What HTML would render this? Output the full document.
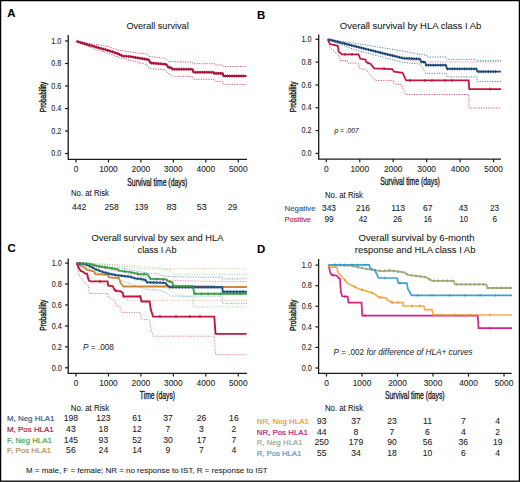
<!DOCTYPE html>
<html><head><meta charset="utf-8"><style>
html,body{margin:0;padding:0;background:#fff;width:520px;height:482px;overflow:hidden;position:relative}
</style></head><body>
<svg width="520" height="482" viewBox="0 0 520 482" style="position:absolute;left:0;top:0">
<g font-family='"Liberation Sans", sans-serif' fill="#222" stroke-width="0.08">
<rect x="0.6" y="0.6" width="518.8" height="480.6" fill="none" stroke="#000" stroke-width="1.3"/>
<text x="7.30" y="17.20" font-size="11.4" stroke="#000" fill="#000" font-weight="bold" >A</text>
<text x="256.90" y="18.80" font-size="11.4" stroke="#000" fill="#000" font-weight="bold" >B</text>
<text x="7.50" y="252.40" font-size="11.4" stroke="#000" fill="#000" font-weight="bold" >C</text>
<text x="257.10" y="252.70" font-size="11.4" stroke="#000" fill="#000" font-weight="bold" >D</text>
<text x="126.40" y="28.70" font-size="9.4" stroke="#222" textLength="62.30" lengthAdjust="spacingAndGlyphs" >Overall survival</text>
<text x="339.80" y="28.80" font-size="9.4" stroke="#222" textLength="141.60" lengthAdjust="spacingAndGlyphs" >Overall survival by HLA class I Ab</text>
<text x="91.50" y="241.30" font-size="9.4" stroke="#222" textLength="132.00" lengthAdjust="spacingAndGlyphs" >Overall survival by sex and HLA</text>
<text x="137.60" y="252.50" font-size="9.4" stroke="#222" textLength="38.90" lengthAdjust="spacingAndGlyphs" >class I Ab</text>
<text x="358.50" y="240.90" font-size="9.4" stroke="#222" textLength="116.00" lengthAdjust="spacingAndGlyphs" >Overall survival by 6-month</text>
<text x="354.80" y="252.60" font-size="9.4" stroke="#222" textLength="120.60" lengthAdjust="spacingAndGlyphs" >response and HLA class I Ab</text>
<path d="M68.20 35.00 V159.30 H247.00" fill="none" stroke="#1a1a1a" stroke-width="1.3"/>
<line x1="65.00" y1="153.50" x2="68.20" y2="153.50" stroke="#1a1a1a" stroke-width="1.2"/>
<text x="51.30" y="156.20" font-size="8.4" stroke="#222" textLength="10.10" lengthAdjust="spacingAndGlyphs" >0.0</text>
<line x1="65.00" y1="131.00" x2="68.20" y2="131.00" stroke="#1a1a1a" stroke-width="1.2"/>
<text x="51.30" y="133.70" font-size="8.4" stroke="#222" textLength="10.10" lengthAdjust="spacingAndGlyphs" >0.2</text>
<line x1="65.00" y1="108.50" x2="68.20" y2="108.50" stroke="#1a1a1a" stroke-width="1.2"/>
<text x="51.30" y="111.20" font-size="8.4" stroke="#222" textLength="10.10" lengthAdjust="spacingAndGlyphs" >0.4</text>
<line x1="65.00" y1="86.00" x2="68.20" y2="86.00" stroke="#1a1a1a" stroke-width="1.2"/>
<text x="51.30" y="88.70" font-size="8.4" stroke="#222" textLength="10.10" lengthAdjust="spacingAndGlyphs" >0.6</text>
<line x1="65.00" y1="63.50" x2="68.20" y2="63.50" stroke="#1a1a1a" stroke-width="1.2"/>
<text x="51.30" y="66.20" font-size="8.4" stroke="#222" textLength="10.10" lengthAdjust="spacingAndGlyphs" >0.8</text>
<line x1="65.00" y1="41.00" x2="68.20" y2="41.00" stroke="#1a1a1a" stroke-width="1.2"/>
<text x="51.30" y="43.70" font-size="8.4" stroke="#222" textLength="10.10" lengthAdjust="spacingAndGlyphs" >1.0</text>
<line x1="76.00" y1="159.30" x2="76.00" y2="162.50" stroke="#1a1a1a" stroke-width="1.2"/>
<text x="76.00" y="172.00" font-size="8.4" stroke="#222" text-anchor="middle" >0</text>
<line x1="108.45" y1="159.30" x2="108.45" y2="162.50" stroke="#1a1a1a" stroke-width="1.2"/>
<text x="108.45" y="172.00" font-size="8.4" stroke="#222" text-anchor="middle" >1000</text>
<line x1="140.90" y1="159.30" x2="140.90" y2="162.50" stroke="#1a1a1a" stroke-width="1.2"/>
<text x="140.90" y="172.00" font-size="8.4" stroke="#222" text-anchor="middle" >2000</text>
<line x1="173.35" y1="159.30" x2="173.35" y2="162.50" stroke="#1a1a1a" stroke-width="1.2"/>
<text x="173.35" y="172.00" font-size="8.4" stroke="#222" text-anchor="middle" >3000</text>
<line x1="205.80" y1="159.30" x2="205.80" y2="162.50" stroke="#1a1a1a" stroke-width="1.2"/>
<text x="205.80" y="172.00" font-size="8.4" stroke="#222" text-anchor="middle" >4000</text>
<line x1="238.25" y1="159.30" x2="238.25" y2="162.50" stroke="#1a1a1a" stroke-width="1.2"/>
<text x="238.25" y="172.00" font-size="8.4" stroke="#222" text-anchor="middle" >5000</text>
<path d="M318.70 34.40 V159.10 H501.00" fill="none" stroke="#1a1a1a" stroke-width="1.3"/>
<line x1="315.50" y1="153.40" x2="318.70" y2="153.40" stroke="#1a1a1a" stroke-width="1.2"/>
<text x="301.50" y="156.10" font-size="8.4" stroke="#222" textLength="10.10" lengthAdjust="spacingAndGlyphs" >0.0</text>
<line x1="315.50" y1="130.58" x2="318.70" y2="130.58" stroke="#1a1a1a" stroke-width="1.2"/>
<text x="301.50" y="133.28" font-size="8.4" stroke="#222" textLength="10.10" lengthAdjust="spacingAndGlyphs" >0.2</text>
<line x1="315.50" y1="107.76" x2="318.70" y2="107.76" stroke="#1a1a1a" stroke-width="1.2"/>
<text x="301.50" y="110.46" font-size="8.4" stroke="#222" textLength="10.10" lengthAdjust="spacingAndGlyphs" >0.4</text>
<line x1="315.50" y1="84.94" x2="318.70" y2="84.94" stroke="#1a1a1a" stroke-width="1.2"/>
<text x="301.50" y="87.64" font-size="8.4" stroke="#222" textLength="10.10" lengthAdjust="spacingAndGlyphs" >0.6</text>
<line x1="315.50" y1="62.12" x2="318.70" y2="62.12" stroke="#1a1a1a" stroke-width="1.2"/>
<text x="301.50" y="64.82" font-size="8.4" stroke="#222" textLength="10.10" lengthAdjust="spacingAndGlyphs" >0.8</text>
<line x1="315.50" y1="39.30" x2="318.70" y2="39.30" stroke="#1a1a1a" stroke-width="1.2"/>
<text x="301.50" y="42.00" font-size="8.4" stroke="#222" textLength="10.10" lengthAdjust="spacingAndGlyphs" >1.0</text>
<line x1="326.30" y1="159.10" x2="326.30" y2="162.30" stroke="#1a1a1a" stroke-width="1.2"/>
<text x="326.30" y="171.50" font-size="8.4" stroke="#222" text-anchor="middle" >0</text>
<line x1="359.75" y1="159.10" x2="359.75" y2="162.30" stroke="#1a1a1a" stroke-width="1.2"/>
<text x="359.75" y="171.50" font-size="8.4" stroke="#222" text-anchor="middle" >1000</text>
<line x1="393.20" y1="159.10" x2="393.20" y2="162.30" stroke="#1a1a1a" stroke-width="1.2"/>
<text x="393.20" y="171.50" font-size="8.4" stroke="#222" text-anchor="middle" >2000</text>
<line x1="426.65" y1="159.10" x2="426.65" y2="162.30" stroke="#1a1a1a" stroke-width="1.2"/>
<text x="426.65" y="171.50" font-size="8.4" stroke="#222" text-anchor="middle" >3000</text>
<line x1="460.10" y1="159.10" x2="460.10" y2="162.30" stroke="#1a1a1a" stroke-width="1.2"/>
<text x="460.10" y="171.50" font-size="8.4" stroke="#222" text-anchor="middle" >4000</text>
<line x1="493.55" y1="159.10" x2="493.55" y2="162.30" stroke="#1a1a1a" stroke-width="1.2"/>
<text x="493.55" y="171.50" font-size="8.4" stroke="#222" text-anchor="middle" >5000</text>
<path d="M68.20 258.50 V373.30 H247.00" fill="none" stroke="#1a1a1a" stroke-width="1.3"/>
<line x1="65.00" y1="367.80" x2="68.20" y2="367.80" stroke="#1a1a1a" stroke-width="1.2"/>
<text x="51.70" y="370.50" font-size="8.4" stroke="#222" textLength="10.10" lengthAdjust="spacingAndGlyphs" >0.0</text>
<line x1="65.00" y1="346.86" x2="68.20" y2="346.86" stroke="#1a1a1a" stroke-width="1.2"/>
<text x="51.70" y="349.56" font-size="8.4" stroke="#222" textLength="10.10" lengthAdjust="spacingAndGlyphs" >0.2</text>
<line x1="65.00" y1="325.92" x2="68.20" y2="325.92" stroke="#1a1a1a" stroke-width="1.2"/>
<text x="51.70" y="328.62" font-size="8.4" stroke="#222" textLength="10.10" lengthAdjust="spacingAndGlyphs" >0.4</text>
<line x1="65.00" y1="304.98" x2="68.20" y2="304.98" stroke="#1a1a1a" stroke-width="1.2"/>
<text x="51.70" y="307.68" font-size="8.4" stroke="#222" textLength="10.10" lengthAdjust="spacingAndGlyphs" >0.6</text>
<line x1="65.00" y1="284.04" x2="68.20" y2="284.04" stroke="#1a1a1a" stroke-width="1.2"/>
<text x="51.70" y="286.74" font-size="8.4" stroke="#222" textLength="10.10" lengthAdjust="spacingAndGlyphs" >0.8</text>
<line x1="65.00" y1="263.10" x2="68.20" y2="263.10" stroke="#1a1a1a" stroke-width="1.2"/>
<text x="51.70" y="265.80" font-size="8.4" stroke="#222" textLength="10.10" lengthAdjust="spacingAndGlyphs" >1.0</text>
<line x1="76.00" y1="373.30" x2="76.00" y2="376.50" stroke="#1a1a1a" stroke-width="1.2"/>
<text x="76.00" y="385.80" font-size="8.4" stroke="#222" text-anchor="middle" >0</text>
<line x1="108.45" y1="373.30" x2="108.45" y2="376.50" stroke="#1a1a1a" stroke-width="1.2"/>
<text x="108.45" y="385.80" font-size="8.4" stroke="#222" text-anchor="middle" >1000</text>
<line x1="140.90" y1="373.30" x2="140.90" y2="376.50" stroke="#1a1a1a" stroke-width="1.2"/>
<text x="140.90" y="385.80" font-size="8.4" stroke="#222" text-anchor="middle" >2000</text>
<line x1="173.35" y1="373.30" x2="173.35" y2="376.50" stroke="#1a1a1a" stroke-width="1.2"/>
<text x="173.35" y="385.80" font-size="8.4" stroke="#222" text-anchor="middle" >3000</text>
<line x1="205.80" y1="373.30" x2="205.80" y2="376.50" stroke="#1a1a1a" stroke-width="1.2"/>
<text x="205.80" y="385.80" font-size="8.4" stroke="#222" text-anchor="middle" >4000</text>
<line x1="238.25" y1="373.30" x2="238.25" y2="376.50" stroke="#1a1a1a" stroke-width="1.2"/>
<text x="238.25" y="385.80" font-size="8.4" stroke="#222" text-anchor="middle" >5000</text>
<path d="M318.60 259.00 V373.40 H511.70" fill="none" stroke="#1a1a1a" stroke-width="1.3"/>
<line x1="315.40" y1="368.00" x2="318.60" y2="368.00" stroke="#1a1a1a" stroke-width="1.2"/>
<text x="301.70" y="370.70" font-size="8.4" stroke="#222" textLength="10.10" lengthAdjust="spacingAndGlyphs" >0.0</text>
<line x1="315.40" y1="347.42" x2="318.60" y2="347.42" stroke="#1a1a1a" stroke-width="1.2"/>
<text x="301.70" y="350.12" font-size="8.4" stroke="#222" textLength="10.10" lengthAdjust="spacingAndGlyphs" >0.2</text>
<line x1="315.40" y1="326.84" x2="318.60" y2="326.84" stroke="#1a1a1a" stroke-width="1.2"/>
<text x="301.70" y="329.54" font-size="8.4" stroke="#222" textLength="10.10" lengthAdjust="spacingAndGlyphs" >0.4</text>
<line x1="315.40" y1="306.26" x2="318.60" y2="306.26" stroke="#1a1a1a" stroke-width="1.2"/>
<text x="301.70" y="308.96" font-size="8.4" stroke="#222" textLength="10.10" lengthAdjust="spacingAndGlyphs" >0.6</text>
<line x1="315.40" y1="285.68" x2="318.60" y2="285.68" stroke="#1a1a1a" stroke-width="1.2"/>
<text x="301.70" y="288.38" font-size="8.4" stroke="#222" textLength="10.10" lengthAdjust="spacingAndGlyphs" >0.8</text>
<line x1="315.40" y1="265.10" x2="318.60" y2="265.10" stroke="#1a1a1a" stroke-width="1.2"/>
<text x="301.70" y="267.80" font-size="8.4" stroke="#222" textLength="10.10" lengthAdjust="spacingAndGlyphs" >1.0</text>
<line x1="326.50" y1="373.40" x2="326.50" y2="376.60" stroke="#1a1a1a" stroke-width="1.2"/>
<text x="326.50" y="385.80" font-size="8.4" stroke="#222" text-anchor="middle" >0</text>
<line x1="362.00" y1="373.40" x2="362.00" y2="376.60" stroke="#1a1a1a" stroke-width="1.2"/>
<text x="362.00" y="385.80" font-size="8.4" stroke="#222" text-anchor="middle" >1000</text>
<line x1="397.50" y1="373.40" x2="397.50" y2="376.60" stroke="#1a1a1a" stroke-width="1.2"/>
<text x="397.50" y="385.80" font-size="8.4" stroke="#222" text-anchor="middle" >2000</text>
<line x1="433.00" y1="373.40" x2="433.00" y2="376.60" stroke="#1a1a1a" stroke-width="1.2"/>
<text x="433.00" y="385.80" font-size="8.4" stroke="#222" text-anchor="middle" >3000</text>
<line x1="468.50" y1="373.40" x2="468.50" y2="376.60" stroke="#1a1a1a" stroke-width="1.2"/>
<text x="468.50" y="385.80" font-size="8.4" stroke="#222" text-anchor="middle" >4000</text>
<line x1="504.00" y1="373.40" x2="504.00" y2="376.60" stroke="#1a1a1a" stroke-width="1.2"/>
<text x="504.00" y="385.80" font-size="8.4" stroke="#222" text-anchor="middle" >5000</text>
<text x="127.30" y="185.60" font-size="10" stroke="#222" textLength="60.10" lengthAdjust="spacingAndGlyphs" stroke-width="0.35">Survival time (days)</text>
<text x="380.20" y="185.20" font-size="10" stroke="#222" textLength="59.60" lengthAdjust="spacingAndGlyphs" stroke-width="0.35">Survival time (days)</text>
<text x="139.80" y="399.40" font-size="10" stroke="#222" textLength="35.20" lengthAdjust="spacingAndGlyphs" stroke-width="0.35">Time (days)</text>
<text x="385.00" y="399.40" font-size="10" stroke="#222" textLength="59.60" lengthAdjust="spacingAndGlyphs" stroke-width="0.35">Survival time (days)</text>
<text transform="translate(45.60 112.20) rotate(-90)" x="0" y="0" font-size="9.1" stroke="#222" stroke-width="0.4" textLength="30.40" lengthAdjust="spacingAndGlyphs">Probability</text>
<text transform="translate(295.60 112.20) rotate(-90)" x="0" y="0" font-size="9.1" stroke="#222" stroke-width="0.4" textLength="30.70" lengthAdjust="spacingAndGlyphs">Probability</text>
<text transform="translate(45.60 330.80) rotate(-90)" x="0" y="0" font-size="9.1" stroke="#222" stroke-width="0.4" textLength="31.20" lengthAdjust="spacingAndGlyphs">Probability</text>
<text transform="translate(295.60 331.10) rotate(-90)" x="0" y="0" font-size="9.1" stroke="#222" stroke-width="0.4" textLength="31.50" lengthAdjust="spacingAndGlyphs">Probability</text>
<text x="334.40" y="132.70" font-size="6.6" stroke="#222" font-style="italic" textLength="24.20" lengthAdjust="spacingAndGlyphs" >p = .007</text>
<text x="82.9" y="350.2" font-size="8.3" textLength="31.1" lengthAdjust="spacingAndGlyphs"><tspan font-style="italic">P</tspan> = .008</text>
<text x="333.4" y="354.6" font-size="8.2" textLength="139.3" lengthAdjust="spacingAndGlyphs"><tspan font-style="italic">P</tspan> = .002 <tspan font-style="italic">for difference of HLA+ curves</tspan></text>
<text x="71.00" y="196.30" font-size="8.3" stroke="#222" textLength="38.00" lengthAdjust="spacingAndGlyphs" >No. at Risk</text>
<text x="71.90" y="210.40" font-size="8.6" stroke="#222" textLength="14.40" lengthAdjust="spacingAndGlyphs" >442</text>
<text x="104.60" y="210.40" font-size="8.6" stroke="#222" textLength="14.10" lengthAdjust="spacingAndGlyphs" >258</text>
<text x="134.80" y="210.40" font-size="8.6" stroke="#222" textLength="13.50" lengthAdjust="spacingAndGlyphs" >139</text>
<text x="166.40" y="210.40" font-size="8.6" stroke="#222" textLength="10.20" lengthAdjust="spacingAndGlyphs" >83</text>
<text x="196.80" y="210.40" font-size="8.6" stroke="#222" textLength="10.00" lengthAdjust="spacingAndGlyphs" >53</text>
<text x="227.80" y="210.40" font-size="8.6" stroke="#222" textLength="9.50" lengthAdjust="spacingAndGlyphs" >29</text>
<text x="325.00" y="197.50" font-size="8.3" stroke="#222" textLength="38.00" lengthAdjust="spacingAndGlyphs" >No. at Risk</text>
<text x="284.50" y="211.00" font-size="8.0" stroke="#35648f" fill="#35648f" textLength="31.00" lengthAdjust="spacingAndGlyphs" stroke-width="0.18">Negative</text>
<text x="284.50" y="221.60" font-size="8.0" stroke="#c02848" fill="#c02848" textLength="26.50" lengthAdjust="spacingAndGlyphs" stroke-width="0.18">Positive</text>
<text x="322.00" y="210.60" font-size="8.6" stroke="#222" textLength="14.00" lengthAdjust="spacingAndGlyphs" >343</text>
<text x="356.00" y="210.60" font-size="8.6" stroke="#222" textLength="14.00" lengthAdjust="spacingAndGlyphs" >216</text>
<text x="391.25" y="210.60" font-size="8.6" stroke="#222" textLength="13.75" lengthAdjust="spacingAndGlyphs" >113</text>
<text x="423.00" y="210.60" font-size="8.6" stroke="#222" textLength="9.50" lengthAdjust="spacingAndGlyphs" >67</text>
<text x="458.75" y="210.60" font-size="8.6" stroke="#222" textLength="9.25" lengthAdjust="spacingAndGlyphs" >43</text>
<text x="490.00" y="210.60" font-size="8.6" stroke="#222" textLength="9.00" lengthAdjust="spacingAndGlyphs" >23</text>
<text x="324.50" y="221.80" font-size="8.6" stroke="#222" textLength="9.25" lengthAdjust="spacingAndGlyphs" >99</text>
<text x="358.75" y="221.80" font-size="8.6" stroke="#222" textLength="8.75" lengthAdjust="spacingAndGlyphs" >42</text>
<text x="393.00" y="221.80" font-size="8.6" stroke="#222" textLength="9.00" lengthAdjust="spacingAndGlyphs" >26</text>
<text x="423.75" y="221.80" font-size="8.6" stroke="#222" textLength="8.25" lengthAdjust="spacingAndGlyphs" >16</text>
<text x="459.50" y="221.80" font-size="8.6" stroke="#222" textLength="8.50" lengthAdjust="spacingAndGlyphs" >10</text>
<text x="492.50" y="221.80" font-size="8.6" stroke="#222" textLength="4.50" lengthAdjust="spacingAndGlyphs" >6</text>
<text x="70.75" y="410.50" font-size="8.3" stroke="#222" textLength="38.50" lengthAdjust="spacingAndGlyphs" >No. at Risk</text>
<text x="7.00" y="421.30" font-size="8.0" stroke="#35648f" fill="#35648f" textLength="47.50" lengthAdjust="spacingAndGlyphs" stroke-width="0.22">M, Neg HLA1</text>
<text x="70.90" y="421.30" font-size="8.6" stroke="#222" text-anchor="middle" >198</text>
<text x="103.40" y="421.30" font-size="8.6" stroke="#222" text-anchor="middle" >123</text>
<text x="137.00" y="421.30" font-size="8.6" stroke="#222" text-anchor="middle" >61</text>
<text x="168.00" y="421.30" font-size="8.6" stroke="#222" text-anchor="middle" >37</text>
<text x="201.50" y="421.30" font-size="8.6" stroke="#222" text-anchor="middle" >26</text>
<text x="233.90" y="421.30" font-size="8.6" stroke="#222" text-anchor="middle" >16</text>
<text x="7.00" y="432.00" font-size="8.0" stroke="#b0203f" fill="#b0203f" textLength="46.75" lengthAdjust="spacingAndGlyphs" stroke-width="0.22">M, Pos HLA1</text>
<text x="70.90" y="432.00" font-size="8.6" stroke="#222" text-anchor="middle" >43</text>
<text x="103.40" y="432.00" font-size="8.6" stroke="#222" text-anchor="middle" >18</text>
<text x="137.00" y="432.00" font-size="8.6" stroke="#222" text-anchor="middle" >12</text>
<text x="168.00" y="432.00" font-size="8.6" stroke="#222" text-anchor="middle" >7</text>
<text x="201.50" y="432.00" font-size="8.6" stroke="#222" text-anchor="middle" >3</text>
<text x="233.90" y="432.00" font-size="8.6" stroke="#222" text-anchor="middle" >2</text>
<text x="7.00" y="442.80" font-size="8.0" stroke="#4aaa4a" fill="#4aaa4a" textLength="45.00" lengthAdjust="spacingAndGlyphs" stroke-width="0.22">F, Neg HLA1</text>
<text x="70.90" y="442.80" font-size="8.6" stroke="#222" text-anchor="middle" >145</text>
<text x="103.40" y="442.80" font-size="8.6" stroke="#222" text-anchor="middle" >93</text>
<text x="137.00" y="442.80" font-size="8.6" stroke="#222" text-anchor="middle" >52</text>
<text x="168.00" y="442.80" font-size="8.6" stroke="#222" text-anchor="middle" >30</text>
<text x="201.50" y="442.80" font-size="8.6" stroke="#222" text-anchor="middle" >17</text>
<text x="233.90" y="442.80" font-size="8.6" stroke="#222" text-anchor="middle" >7</text>
<text x="7.00" y="453.40" font-size="8.0" stroke="#c08f4a" fill="#c08f4a" textLength="44.25" lengthAdjust="spacingAndGlyphs" stroke-width="0.22">F, Pos HLA1</text>
<text x="70.90" y="453.40" font-size="8.6" stroke="#222" text-anchor="middle" >56</text>
<text x="103.40" y="453.40" font-size="8.6" stroke="#222" text-anchor="middle" >24</text>
<text x="137.00" y="453.40" font-size="8.6" stroke="#222" text-anchor="middle" >14</text>
<text x="168.00" y="453.40" font-size="8.6" stroke="#222" text-anchor="middle" >9</text>
<text x="201.50" y="453.40" font-size="8.6" stroke="#222" text-anchor="middle" >7</text>
<text x="233.90" y="453.40" font-size="8.6" stroke="#222" text-anchor="middle" >4</text>
<text x="324.90" y="410.60" font-size="8.3" stroke="#222" textLength="38.30" lengthAdjust="spacingAndGlyphs" >No. at Risk</text>
<text x="256.70" y="424.00" font-size="8.0" stroke="#f09a3a" fill="#f09a3a" textLength="52.10" lengthAdjust="spacingAndGlyphs" stroke-width="0.22">NR, Neg HLA1</text>
<text x="321.70" y="424.00" font-size="8.6" stroke="#222" text-anchor="middle" >93</text>
<text x="356.00" y="424.00" font-size="8.6" stroke="#222" text-anchor="middle" >37</text>
<text x="392.00" y="424.00" font-size="8.6" stroke="#222" text-anchor="middle" >23</text>
<text x="427.50" y="424.00" font-size="8.6" stroke="#222" text-anchor="middle" >11</text>
<text x="463.30" y="424.00" font-size="8.6" stroke="#222" text-anchor="middle" >7</text>
<text x="497.70" y="424.00" font-size="8.6" stroke="#222" text-anchor="middle" >4</text>
<text x="256.70" y="434.70" font-size="8.0" stroke="#c0207e" fill="#c0207e" textLength="51.30" lengthAdjust="spacingAndGlyphs" stroke-width="0.22">NR, Pos HLA1</text>
<text x="321.70" y="434.70" font-size="8.6" stroke="#222" text-anchor="middle" >44</text>
<text x="356.00" y="434.70" font-size="8.6" stroke="#222" text-anchor="middle" >8</text>
<text x="392.00" y="434.70" font-size="8.6" stroke="#222" text-anchor="middle" >7</text>
<text x="427.50" y="434.70" font-size="8.6" stroke="#222" text-anchor="middle" >6</text>
<text x="463.30" y="434.70" font-size="8.6" stroke="#222" text-anchor="middle" >4</text>
<text x="497.70" y="434.70" font-size="8.6" stroke="#222" text-anchor="middle" >2</text>
<text x="256.70" y="445.30" font-size="8.0" stroke="#a4a892" fill="#a4a892" textLength="45.90" lengthAdjust="spacingAndGlyphs" stroke-width="0.22">R, Neg HLA1</text>
<text x="321.70" y="445.30" font-size="8.6" stroke="#222" text-anchor="middle" >250</text>
<text x="356.00" y="445.30" font-size="8.6" stroke="#222" text-anchor="middle" >179</text>
<text x="392.00" y="445.30" font-size="8.6" stroke="#222" text-anchor="middle" >90</text>
<text x="427.50" y="445.30" font-size="8.6" stroke="#222" text-anchor="middle" >56</text>
<text x="463.30" y="445.30" font-size="8.6" stroke="#222" text-anchor="middle" >36</text>
<text x="497.70" y="445.30" font-size="8.6" stroke="#222" text-anchor="middle" >19</text>
<text x="256.70" y="456.00" font-size="8.0" stroke="#4a9fd0" fill="#4a9fd0" textLength="44.50" lengthAdjust="spacingAndGlyphs" stroke-width="0.22">R, Pos HLA1</text>
<text x="321.70" y="456.00" font-size="8.6" stroke="#222" text-anchor="middle" >55</text>
<text x="356.00" y="456.00" font-size="8.6" stroke="#222" text-anchor="middle" >34</text>
<text x="392.00" y="456.00" font-size="8.6" stroke="#222" text-anchor="middle" >18</text>
<text x="427.50" y="456.00" font-size="8.6" stroke="#222" text-anchor="middle" >10</text>
<text x="463.30" y="456.00" font-size="8.6" stroke="#222" text-anchor="middle" >6</text>
<text x="497.70" y="456.00" font-size="8.6" stroke="#222" text-anchor="middle" >4</text>
<text x="26.00" y="473.00" font-size="8.0" stroke="#222" textLength="241.70" lengthAdjust="spacingAndGlyphs" >M = male, F = female; NR = no response to IST, R = response to IST</text>
<path d="M76.30 41.30 L91.20 43.70 L108.50 46.60 L118.00 50.20 L146.80 54.20 L149.00 56.50 L165.30 58.30 L168.00 61.50 L192.50 62.20 L193.50 63.70 L214.50 63.70 L215.00 65.00 L222.60 65.00 L223.50 66.50 L247.00 66.50" fill="none" stroke="#b8173f" stroke-width="0.9" stroke-dasharray="1.2 1.3" opacity="0.8"/>
<path d="M76.30 41.30 L96.00 49.50 L108.50 53.30 L118.00 57.10 L146.80 64.60 L149.50 68.60 L165.30 69.80 L168.00 73.30 L173.40 76.30 L192.50 76.50 L193.50 79.30 L214.50 79.30 L215.00 81.40 L222.60 81.40 L223.50 84.40 L247.00 84.40" fill="none" stroke="#b8173f" stroke-width="0.9" stroke-dasharray="1.2 1.3" opacity="0.8"/>
<path d="M76.30 41.30 L86.40 44.20 L96.00 47.00 L108.50 50.60 L118.00 53.70 L122.60 56.00 L129.50 56.50 L146.80 59.40 L148.50 59.60 L150.50 62.90 L165.30 64.30 L166.50 64.50 L168.50 67.50 L171.00 67.60 L172.50 69.20 L192.50 69.20 L193.50 72.30 L213.50 72.30 L214.00 73.40 L222.60 73.40 L223.50 76.00 L246.50 76.00" fill="none" stroke="#b8173f" stroke-width="2.1" stroke-linejoin="miter" opacity="1.0"/>
<line x1="78.00" y1="40.29" x2="78.00" y2="43.29" stroke="#9a1236" stroke-width="0.9"/>
<line x1="80.30" y1="40.95" x2="80.30" y2="43.95" stroke="#9a1236" stroke-width="0.9"/>
<line x1="82.60" y1="41.61" x2="82.60" y2="44.61" stroke="#9a1236" stroke-width="0.9"/>
<line x1="84.90" y1="42.27" x2="84.90" y2="45.27" stroke="#9a1236" stroke-width="0.9"/>
<line x1="87.20" y1="42.93" x2="87.20" y2="45.93" stroke="#9a1236" stroke-width="0.9"/>
<line x1="89.50" y1="43.60" x2="89.50" y2="46.60" stroke="#9a1236" stroke-width="0.9"/>
<line x1="91.80" y1="44.27" x2="91.80" y2="47.27" stroke="#9a1236" stroke-width="0.9"/>
<line x1="94.10" y1="44.95" x2="94.10" y2="47.95" stroke="#9a1236" stroke-width="0.9"/>
<line x1="96.40" y1="45.62" x2="96.40" y2="48.62" stroke="#9a1236" stroke-width="0.9"/>
<line x1="98.70" y1="46.28" x2="98.70" y2="49.28" stroke="#9a1236" stroke-width="0.9"/>
<line x1="101.00" y1="46.94" x2="101.00" y2="49.94" stroke="#9a1236" stroke-width="0.9"/>
<line x1="103.30" y1="47.60" x2="103.30" y2="50.60" stroke="#9a1236" stroke-width="0.9"/>
<line x1="105.60" y1="48.26" x2="105.60" y2="51.26" stroke="#9a1236" stroke-width="0.9"/>
<line x1="107.90" y1="48.93" x2="107.90" y2="51.93" stroke="#9a1236" stroke-width="0.9"/>
<line x1="110.20" y1="49.65" x2="110.20" y2="52.65" stroke="#9a1236" stroke-width="0.9"/>
<line x1="112.50" y1="50.41" x2="112.50" y2="53.41" stroke="#9a1236" stroke-width="0.9"/>
<line x1="114.80" y1="51.16" x2="114.80" y2="54.16" stroke="#9a1236" stroke-width="0.9"/>
<line x1="117.10" y1="51.91" x2="117.10" y2="54.91" stroke="#9a1236" stroke-width="0.9"/>
<line x1="119.40" y1="52.90" x2="119.40" y2="55.90" stroke="#9a1236" stroke-width="0.9"/>
<line x1="121.70" y1="54.05" x2="121.70" y2="57.05" stroke="#9a1236" stroke-width="0.9"/>
<line x1="124.00" y1="54.60" x2="124.00" y2="57.60" stroke="#9a1236" stroke-width="0.9"/>
<line x1="126.30" y1="54.77" x2="126.30" y2="57.77" stroke="#9a1236" stroke-width="0.9"/>
<line x1="128.60" y1="54.93" x2="128.60" y2="57.93" stroke="#9a1236" stroke-width="0.9"/>
<line x1="130.90" y1="55.23" x2="130.90" y2="58.23" stroke="#9a1236" stroke-width="0.9"/>
<line x1="133.20" y1="55.62" x2="133.20" y2="58.62" stroke="#9a1236" stroke-width="0.9"/>
<line x1="135.50" y1="56.01" x2="135.50" y2="59.01" stroke="#9a1236" stroke-width="0.9"/>
<line x1="137.80" y1="56.39" x2="137.80" y2="59.39" stroke="#9a1236" stroke-width="0.9"/>
<line x1="140.10" y1="56.78" x2="140.10" y2="59.78" stroke="#9a1236" stroke-width="0.9"/>
<line x1="142.40" y1="57.16" x2="142.40" y2="60.16" stroke="#9a1236" stroke-width="0.9"/>
<line x1="144.70" y1="57.55" x2="144.70" y2="60.55" stroke="#9a1236" stroke-width="0.9"/>
<line x1="147.00" y1="57.92" x2="147.00" y2="60.92" stroke="#9a1236" stroke-width="0.9"/>
<line x1="149.30" y1="59.42" x2="149.30" y2="62.42" stroke="#9a1236" stroke-width="0.9"/>
<line x1="151.60" y1="61.50" x2="151.60" y2="64.50" stroke="#9a1236" stroke-width="0.9"/>
<line x1="153.90" y1="61.72" x2="153.90" y2="64.72" stroke="#9a1236" stroke-width="0.9"/>
<line x1="156.20" y1="61.94" x2="156.20" y2="64.94" stroke="#9a1236" stroke-width="0.9"/>
<line x1="158.50" y1="62.16" x2="158.50" y2="65.16" stroke="#9a1236" stroke-width="0.9"/>
<line x1="160.80" y1="62.37" x2="160.80" y2="65.37" stroke="#9a1236" stroke-width="0.9"/>
<line x1="163.10" y1="62.59" x2="163.10" y2="65.59" stroke="#9a1236" stroke-width="0.9"/>
<line x1="165.40" y1="62.82" x2="165.40" y2="65.82" stroke="#9a1236" stroke-width="0.9"/>
<line x1="167.70" y1="64.80" x2="167.70" y2="67.80" stroke="#9a1236" stroke-width="0.9"/>
<line x1="170.00" y1="66.06" x2="170.00" y2="69.06" stroke="#9a1236" stroke-width="0.9"/>
<line x1="172.30" y1="67.49" x2="172.30" y2="70.49" stroke="#9a1236" stroke-width="0.9"/>
<line x1="174.60" y1="67.70" x2="174.60" y2="70.70" stroke="#9a1236" stroke-width="0.9"/>
<line x1="176.90" y1="67.70" x2="176.90" y2="70.70" stroke="#9a1236" stroke-width="0.9"/>
<line x1="179.20" y1="67.70" x2="179.20" y2="70.70" stroke="#9a1236" stroke-width="0.9"/>
<line x1="181.50" y1="67.70" x2="181.50" y2="70.70" stroke="#9a1236" stroke-width="0.9"/>
<line x1="183.80" y1="67.70" x2="183.80" y2="70.70" stroke="#9a1236" stroke-width="0.9"/>
<line x1="186.10" y1="67.70" x2="186.10" y2="70.70" stroke="#9a1236" stroke-width="0.9"/>
<line x1="188.40" y1="67.70" x2="188.40" y2="70.70" stroke="#9a1236" stroke-width="0.9"/>
<line x1="190.70" y1="67.70" x2="190.70" y2="70.70" stroke="#9a1236" stroke-width="0.9"/>
<line x1="193.00" y1="69.25" x2="193.00" y2="72.25" stroke="#9a1236" stroke-width="0.9"/>
<line x1="195.30" y1="70.80" x2="195.30" y2="73.80" stroke="#9a1236" stroke-width="0.9"/>
<line x1="197.60" y1="70.80" x2="197.60" y2="73.80" stroke="#9a1236" stroke-width="0.9"/>
<line x1="199.90" y1="70.80" x2="199.90" y2="73.80" stroke="#9a1236" stroke-width="0.9"/>
<line x1="202.20" y1="70.80" x2="202.20" y2="73.80" stroke="#9a1236" stroke-width="0.9"/>
<line x1="204.50" y1="70.80" x2="204.50" y2="73.80" stroke="#9a1236" stroke-width="0.9"/>
<line x1="206.80" y1="70.80" x2="206.80" y2="73.80" stroke="#9a1236" stroke-width="0.9"/>
<line x1="209.10" y1="70.80" x2="209.10" y2="73.80" stroke="#9a1236" stroke-width="0.9"/>
<line x1="211.40" y1="70.80" x2="211.40" y2="73.80" stroke="#9a1236" stroke-width="0.9"/>
<line x1="213.70" y1="71.24" x2="213.70" y2="74.24" stroke="#9a1236" stroke-width="0.9"/>
<line x1="216.00" y1="71.90" x2="216.00" y2="74.90" stroke="#9a1236" stroke-width="0.9"/>
<line x1="218.30" y1="71.90" x2="218.30" y2="74.90" stroke="#9a1236" stroke-width="0.9"/>
<line x1="220.60" y1="71.90" x2="220.60" y2="74.90" stroke="#9a1236" stroke-width="0.9"/>
<line x1="222.90" y1="72.77" x2="222.90" y2="75.77" stroke="#9a1236" stroke-width="0.9"/>
<line x1="225.20" y1="74.50" x2="225.20" y2="77.50" stroke="#9a1236" stroke-width="0.9"/>
<line x1="227.50" y1="74.50" x2="227.50" y2="77.50" stroke="#9a1236" stroke-width="0.9"/>
<line x1="229.80" y1="74.50" x2="229.80" y2="77.50" stroke="#9a1236" stroke-width="0.9"/>
<line x1="232.10" y1="74.50" x2="232.10" y2="77.50" stroke="#9a1236" stroke-width="0.9"/>
<line x1="234.40" y1="74.50" x2="234.40" y2="77.50" stroke="#9a1236" stroke-width="0.9"/>
<line x1="236.70" y1="74.50" x2="236.70" y2="77.50" stroke="#9a1236" stroke-width="0.9"/>
<line x1="239.00" y1="74.50" x2="239.00" y2="77.50" stroke="#9a1236" stroke-width="0.9"/>
<line x1="241.30" y1="74.50" x2="241.30" y2="77.50" stroke="#9a1236" stroke-width="0.9"/>
<line x1="243.60" y1="74.50" x2="243.60" y2="77.50" stroke="#9a1236" stroke-width="0.9"/>
<path d="M327.80 39.30 L354.60 43.30 L403.00 51.00 L420.00 54.50 L426.50 55.00 L427.00 57.00 L446.00 57.00 L447.00 59.40 L475.60 59.40 L476.50 60.70 L501.00 60.70" fill="none" stroke="#1f4f80" stroke-width="0.9" stroke-dasharray="1.2 1.3" opacity="0.8"/>
<path d="M327.80 39.30 L354.60 49.70 L403.00 62.50 L420.00 64.00 L426.00 73.30 L446.50 73.30 L447.00 76.90 L476.80 76.90 L477.50 81.40 L501.00 81.40" fill="none" stroke="#1f4f80" stroke-width="0.9" stroke-dasharray="1.2 1.3" opacity="0.8"/>
<path d="M327.80 39.30 L338.00 42.00 L360.00 48.00 L394.00 55.00 L406.00 60.00 L427.00 61.90 L501.00 61.90" fill="none" stroke="#c3163e" stroke-width="0.9" stroke-dasharray="1.2 1.3" opacity="0.6"/>
<path d="M327.80 39.30 L330.00 47.50 L338.70 55.30 L340.40 60.50 L347.30 60.50 L347.80 63.10 L358.50 63.10 L359.40 68.30 L366.30 70.00 L369.80 74.30 L374.10 78.70 L375.00 80.40 L393.10 80.40 L394.00 83.80 L401.80 84.70 L402.70 88.20 L406.00 94.50 L468.70 94.50 L469.20 108.00 L501.00 108.00" fill="none" stroke="#c3163e" stroke-width="0.9" stroke-dasharray="1.2 1.3" opacity="0.8"/>
<path d="M327.80 39.30 L330.00 44.00 L337.80 45.80 L338.70 51.80 L342.10 54.40 L358.50 54.40 L360.30 58.80 L365.50 59.60 L366.30 62.20 L370.70 64.00 L374.10 68.30 L392.30 69.10 L394.00 71.70 L400.90 72.60 L402.50 72.60 L406.10 80.40 L468.70 80.40 L469.20 89.00 L501.00 89.00" fill="none" stroke="#c3163e" stroke-width="1.75" stroke-linejoin="miter" opacity="1.0"/>
<path d="M327.80 39.30 L354.60 46.20 L389.20 54.90 L403.00 58.10 L420.20 59.00 L421.00 61.90 L425.00 62.00 L426.00 65.20 L446.00 65.20 L447.00 68.90 L476.40 68.90 L477.40 71.70 L501.00 71.70" fill="none" stroke="#1f4f80" stroke-width="1.8" stroke-linejoin="miter" opacity="1.0"/>
<line x1="330.00" y1="38.37" x2="330.00" y2="41.37" stroke="#183c63" stroke-width="0.9"/>
<line x1="332.40" y1="38.98" x2="332.40" y2="41.98" stroke="#183c63" stroke-width="0.9"/>
<line x1="334.80" y1="39.60" x2="334.80" y2="42.60" stroke="#183c63" stroke-width="0.9"/>
<line x1="337.20" y1="40.22" x2="337.20" y2="43.22" stroke="#183c63" stroke-width="0.9"/>
<line x1="339.60" y1="40.84" x2="339.60" y2="43.84" stroke="#183c63" stroke-width="0.9"/>
<line x1="342.00" y1="41.46" x2="342.00" y2="44.46" stroke="#183c63" stroke-width="0.9"/>
<line x1="344.40" y1="42.07" x2="344.40" y2="45.07" stroke="#183c63" stroke-width="0.9"/>
<line x1="346.80" y1="42.69" x2="346.80" y2="45.69" stroke="#183c63" stroke-width="0.9"/>
<line x1="349.20" y1="43.31" x2="349.20" y2="46.31" stroke="#183c63" stroke-width="0.9"/>
<line x1="351.60" y1="43.93" x2="351.60" y2="46.93" stroke="#183c63" stroke-width="0.9"/>
<line x1="354.00" y1="44.55" x2="354.00" y2="47.55" stroke="#183c63" stroke-width="0.9"/>
<line x1="356.40" y1="45.15" x2="356.40" y2="48.15" stroke="#183c63" stroke-width="0.9"/>
<line x1="358.80" y1="45.76" x2="358.80" y2="48.76" stroke="#183c63" stroke-width="0.9"/>
<line x1="361.20" y1="46.36" x2="361.20" y2="49.36" stroke="#183c63" stroke-width="0.9"/>
<line x1="363.60" y1="46.96" x2="363.60" y2="49.96" stroke="#183c63" stroke-width="0.9"/>
<line x1="366.00" y1="47.57" x2="366.00" y2="50.57" stroke="#183c63" stroke-width="0.9"/>
<line x1="368.40" y1="48.17" x2="368.40" y2="51.17" stroke="#183c63" stroke-width="0.9"/>
<line x1="370.80" y1="48.77" x2="370.80" y2="51.77" stroke="#183c63" stroke-width="0.9"/>
<line x1="373.20" y1="49.38" x2="373.20" y2="52.38" stroke="#183c63" stroke-width="0.9"/>
<line x1="375.60" y1="49.98" x2="375.60" y2="52.98" stroke="#183c63" stroke-width="0.9"/>
<line x1="378.00" y1="50.58" x2="378.00" y2="53.58" stroke="#183c63" stroke-width="0.9"/>
<line x1="380.40" y1="51.19" x2="380.40" y2="54.19" stroke="#183c63" stroke-width="0.9"/>
<line x1="382.80" y1="51.79" x2="382.80" y2="54.79" stroke="#183c63" stroke-width="0.9"/>
<line x1="385.20" y1="52.39" x2="385.20" y2="55.39" stroke="#183c63" stroke-width="0.9"/>
<line x1="387.60" y1="53.00" x2="387.60" y2="56.00" stroke="#183c63" stroke-width="0.9"/>
<line x1="390.00" y1="53.59" x2="390.00" y2="56.59" stroke="#183c63" stroke-width="0.9"/>
<line x1="392.40" y1="54.14" x2="392.40" y2="57.14" stroke="#183c63" stroke-width="0.9"/>
<line x1="394.80" y1="54.70" x2="394.80" y2="57.70" stroke="#183c63" stroke-width="0.9"/>
<line x1="397.20" y1="55.26" x2="397.20" y2="58.26" stroke="#183c63" stroke-width="0.9"/>
<line x1="399.60" y1="55.81" x2="399.60" y2="58.81" stroke="#183c63" stroke-width="0.9"/>
<line x1="402.00" y1="56.37" x2="402.00" y2="59.37" stroke="#183c63" stroke-width="0.9"/>
<line x1="404.40" y1="56.67" x2="404.40" y2="59.67" stroke="#183c63" stroke-width="0.9"/>
<line x1="406.80" y1="56.80" x2="406.80" y2="59.80" stroke="#183c63" stroke-width="0.9"/>
<line x1="409.20" y1="56.92" x2="409.20" y2="59.92" stroke="#183c63" stroke-width="0.9"/>
<line x1="411.60" y1="57.05" x2="411.60" y2="60.05" stroke="#183c63" stroke-width="0.9"/>
<line x1="414.00" y1="57.18" x2="414.00" y2="60.18" stroke="#183c63" stroke-width="0.9"/>
<line x1="416.40" y1="57.30" x2="416.40" y2="60.30" stroke="#183c63" stroke-width="0.9"/>
<line x1="418.80" y1="57.43" x2="418.80" y2="60.43" stroke="#183c63" stroke-width="0.9"/>
<line x1="421.20" y1="60.41" x2="421.20" y2="63.41" stroke="#183c63" stroke-width="0.9"/>
<line x1="423.60" y1="60.47" x2="423.60" y2="63.47" stroke="#183c63" stroke-width="0.9"/>
<line x1="426.00" y1="63.70" x2="426.00" y2="66.70" stroke="#183c63" stroke-width="0.9"/>
<line x1="428.40" y1="63.70" x2="428.40" y2="66.70" stroke="#183c63" stroke-width="0.9"/>
<line x1="430.80" y1="63.70" x2="430.80" y2="66.70" stroke="#183c63" stroke-width="0.9"/>
<line x1="433.20" y1="63.70" x2="433.20" y2="66.70" stroke="#183c63" stroke-width="0.9"/>
<line x1="435.60" y1="63.70" x2="435.60" y2="66.70" stroke="#183c63" stroke-width="0.9"/>
<line x1="438.00" y1="63.70" x2="438.00" y2="66.70" stroke="#183c63" stroke-width="0.9"/>
<line x1="440.40" y1="63.70" x2="440.40" y2="66.70" stroke="#183c63" stroke-width="0.9"/>
<line x1="442.80" y1="63.70" x2="442.80" y2="66.70" stroke="#183c63" stroke-width="0.9"/>
<line x1="445.20" y1="63.70" x2="445.20" y2="66.70" stroke="#183c63" stroke-width="0.9"/>
<line x1="447.60" y1="67.40" x2="447.60" y2="70.40" stroke="#183c63" stroke-width="0.9"/>
<line x1="450.00" y1="67.40" x2="450.00" y2="70.40" stroke="#183c63" stroke-width="0.9"/>
<line x1="452.40" y1="67.40" x2="452.40" y2="70.40" stroke="#183c63" stroke-width="0.9"/>
<line x1="454.80" y1="67.40" x2="454.80" y2="70.40" stroke="#183c63" stroke-width="0.9"/>
<line x1="457.20" y1="67.40" x2="457.20" y2="70.40" stroke="#183c63" stroke-width="0.9"/>
<line x1="459.60" y1="67.40" x2="459.60" y2="70.40" stroke="#183c63" stroke-width="0.9"/>
<line x1="462.00" y1="67.40" x2="462.00" y2="70.40" stroke="#183c63" stroke-width="0.9"/>
<line x1="464.40" y1="67.40" x2="464.40" y2="70.40" stroke="#183c63" stroke-width="0.9"/>
<line x1="466.80" y1="67.40" x2="466.80" y2="70.40" stroke="#183c63" stroke-width="0.9"/>
<line x1="469.20" y1="67.40" x2="469.20" y2="70.40" stroke="#183c63" stroke-width="0.9"/>
<line x1="471.60" y1="67.40" x2="471.60" y2="70.40" stroke="#183c63" stroke-width="0.9"/>
<line x1="474.00" y1="67.40" x2="474.00" y2="70.40" stroke="#183c63" stroke-width="0.9"/>
<line x1="476.40" y1="67.40" x2="476.40" y2="70.40" stroke="#183c63" stroke-width="0.9"/>
<line x1="478.80" y1="70.20" x2="478.80" y2="73.20" stroke="#183c63" stroke-width="0.9"/>
<line x1="481.20" y1="70.20" x2="481.20" y2="73.20" stroke="#183c63" stroke-width="0.9"/>
<line x1="483.60" y1="70.20" x2="483.60" y2="73.20" stroke="#183c63" stroke-width="0.9"/>
<line x1="486.00" y1="70.20" x2="486.00" y2="73.20" stroke="#183c63" stroke-width="0.9"/>
<line x1="488.40" y1="70.20" x2="488.40" y2="73.20" stroke="#183c63" stroke-width="0.9"/>
<line x1="490.80" y1="70.20" x2="490.80" y2="73.20" stroke="#183c63" stroke-width="0.9"/>
<line x1="493.20" y1="70.20" x2="493.20" y2="73.20" stroke="#183c63" stroke-width="0.9"/>
<line x1="495.60" y1="70.20" x2="495.60" y2="73.20" stroke="#183c63" stroke-width="0.9"/>
<line x1="345.00" y1="52.90" x2="345.00" y2="55.90" stroke="#a01234" stroke-width="0.9"/>
<line x1="352.00" y1="52.90" x2="352.00" y2="55.90" stroke="#a01234" stroke-width="0.9"/>
<line x1="368.00" y1="61.40" x2="368.00" y2="64.40" stroke="#a01234" stroke-width="0.9"/>
<line x1="384.00" y1="67.24" x2="384.00" y2="70.24" stroke="#a01234" stroke-width="0.9"/>
<line x1="410.00" y1="78.90" x2="410.00" y2="81.90" stroke="#a01234" stroke-width="0.9"/>
<line x1="425.00" y1="78.90" x2="425.00" y2="81.90" stroke="#a01234" stroke-width="0.9"/>
<line x1="432.00" y1="78.90" x2="432.00" y2="81.90" stroke="#a01234" stroke-width="0.9"/>
<line x1="445.00" y1="78.90" x2="445.00" y2="81.90" stroke="#a01234" stroke-width="0.9"/>
<line x1="452.00" y1="78.90" x2="452.00" y2="81.90" stroke="#a01234" stroke-width="0.9"/>
<line x1="490.00" y1="87.50" x2="490.00" y2="90.50" stroke="#a01234" stroke-width="0.9"/>
<path d="M76.80 263.20 L100.00 264.00 L140.00 266.00 L170.00 268.80 L247.00 268.80" fill="none" stroke="#d8b880" stroke-width="0.9" stroke-dasharray="1.2 1.3" opacity="0.8"/>
<path d="M76.80 263.20 L110.00 264.70 L140.00 268.50 L170.00 269.50 L173.00 274.20 L193.00 274.20 L247.00 274.20" fill="none" stroke="#7fcf7f" stroke-width="0.9" stroke-dasharray="1.2 1.3" opacity="0.8"/>
<path d="M76.80 263.20 L95.00 265.00 L120.00 268.00 L150.40 273.70 L158.50 273.70 L160.80 275.40 L167.70 276.50 L195.40 277.10 L221.00 277.20 L222.00 278.80 L247.00 278.80" fill="none" stroke="#3f7fa0" stroke-width="0.9" stroke-dasharray="1.2 1.3" opacity="0.8"/>
<path d="M76.80 263.20 L90.00 266.00 L108.00 269.00 L122.00 272.00 L141.00 276.00 L153.00 280.00 L214.60 281.40 L247.00 281.40" fill="none" stroke="#e46a8a" stroke-width="0.9" stroke-dasharray="1.2 1.3" opacity="0.8"/>
<path d="M76.80 263.20 L85.00 272.00 L95.00 280.00 L110.00 287.00 L123.00 298.00 L130.00 300.30 L247.00 300.30" fill="none" stroke="#e0a060" stroke-width="0.9" stroke-dasharray="1.2 1.3" opacity="0.8"/>
<path d="M76.80 263.20 L100.00 270.00 L130.00 277.00 L150.00 283.00 L170.00 290.00 L180.00 296.00 L193.00 297.20 L193.50 307.00 L247.00 307.00" fill="none" stroke="#7fcf7f" stroke-width="0.9" stroke-dasharray="1.2 1.3" opacity="0.8"/>
<path d="M76.80 263.20 L95.00 272.00 L120.00 280.00 L145.80 289.20 L160.80 290.40 L167.70 293.80 L170.00 296.10 L222.00 296.10 L222.50 303.40 L247.00 303.40" fill="none" stroke="#6090b8" stroke-width="0.9" stroke-dasharray="1.2 1.3" opacity="0.8"/>
<path d="M76.80 263.20 L78.90 274.40 L81.50 278.80 L85.00 283.00 L88.40 285.70 L89.30 293.50 L107.50 293.50 L108.30 297.00 L115.00 301.30 L115.80 304.70 L120.20 307.30 L121.90 312.50 L140.40 312.60 L141.50 318.90 L149.60 320.00 L150.80 328.10 L153.10 336.20 L214.30 336.20 L215.50 354.70 L246.60 354.70" fill="none" stroke="#d84a70" stroke-width="0.9" stroke-dasharray="1.2 1.3" opacity="0.8"/>
<path d="M76.80 263.20 L80.00 265.50 L84.00 267.00 L86.00 269.00 L88.00 270.10 L94.00 271.30 L95.50 274.30 L107.50 274.50 L109.00 277.30 L119.00 278.20 L120.50 282.50 L122.00 284.50 L123.50 286.50 L214.60 286.50 L215.00 287.00 L247.00 287.00" fill="none" stroke="#c98a35" stroke-width="1.8" stroke-linejoin="miter" opacity="1.0"/>
<path d="M76.80 263.20 L85.00 264.00 L89.30 265.80 L95.40 269.20 L102.30 271.80 L110.00 274.00 L117.00 275.30 L130.20 276.80 L136.90 278.80 L140.00 278.80 L145.80 280.00 L146.90 282.30 L165.40 282.90 L167.70 285.80 L170.00 287.30 L222.30 287.30 L222.80 291.80 L247.00 291.80" fill="none" stroke="#24568a" stroke-width="1.9" stroke-linejoin="miter" opacity="1.0"/>
<path d="M76.80 263.20 L89.30 263.60 L92.00 264.50 L98.00 266.20 L106.60 267.50 L117.00 269.20 L119.40 270.70 L130.20 272.10 L140.00 274.20 L146.90 274.20 L149.20 276.50 L150.40 278.80 L166.50 279.40 L167.70 281.10 L172.30 282.30 L173.40 286.30 L193.00 286.30 L194.20 293.80 L247.00 293.80" fill="none" stroke="#3ea24a" stroke-width="1.9" stroke-linejoin="miter" opacity="1.0"/>
<path d="M76.80 263.20 L78.50 267.50 L80.70 271.00 L83.20 271.80 L85.00 273.60 L87.10 273.60 L88.00 277.90 L88.90 280.50 L90.20 281.40 L107.50 281.40 L108.30 285.70 L112.70 286.10 L114.80 290.40 L117.00 290.90 L121.00 291.50 L122.80 293.00 L123.50 296.50 L140.40 296.50 L141.50 301.50 L149.60 301.50 L150.80 309.60 L153.10 316.60 L214.30 316.60 L215.50 333.90 L246.60 333.90" fill="none" stroke="#c0173f" stroke-width="1.9" stroke-linejoin="miter" opacity="1.0"/>
<line x1="80.00" y1="262.11" x2="80.00" y2="264.91" stroke="#1b4470" stroke-width="0.8"/>
<line x1="83.20" y1="262.42" x2="83.20" y2="265.22" stroke="#1b4470" stroke-width="0.8"/>
<line x1="86.40" y1="263.19" x2="86.40" y2="265.99" stroke="#1b4470" stroke-width="0.8"/>
<line x1="89.60" y1="264.57" x2="89.60" y2="267.37" stroke="#1b4470" stroke-width="0.8"/>
<line x1="92.80" y1="266.35" x2="92.80" y2="269.15" stroke="#1b4470" stroke-width="0.8"/>
<line x1="96.00" y1="268.03" x2="96.00" y2="270.83" stroke="#1b4470" stroke-width="0.8"/>
<line x1="99.20" y1="269.23" x2="99.20" y2="272.03" stroke="#1b4470" stroke-width="0.8"/>
<line x1="102.40" y1="270.43" x2="102.40" y2="273.23" stroke="#1b4470" stroke-width="0.8"/>
<line x1="105.60" y1="271.34" x2="105.60" y2="274.14" stroke="#1b4470" stroke-width="0.8"/>
<line x1="108.80" y1="272.26" x2="108.80" y2="275.06" stroke="#1b4470" stroke-width="0.8"/>
<line x1="112.00" y1="272.97" x2="112.00" y2="275.77" stroke="#1b4470" stroke-width="0.8"/>
<line x1="115.20" y1="273.57" x2="115.20" y2="276.37" stroke="#1b4470" stroke-width="0.8"/>
<line x1="118.40" y1="274.06" x2="118.40" y2="276.86" stroke="#1b4470" stroke-width="0.8"/>
<line x1="121.60" y1="274.42" x2="121.60" y2="277.22" stroke="#1b4470" stroke-width="0.8"/>
<line x1="124.80" y1="274.79" x2="124.80" y2="277.59" stroke="#1b4470" stroke-width="0.8"/>
<line x1="128.00" y1="275.15" x2="128.00" y2="277.95" stroke="#1b4470" stroke-width="0.8"/>
<line x1="131.20" y1="275.70" x2="131.20" y2="278.50" stroke="#1b4470" stroke-width="0.8"/>
<line x1="134.40" y1="276.65" x2="134.40" y2="279.45" stroke="#1b4470" stroke-width="0.8"/>
<line x1="137.60" y1="277.40" x2="137.60" y2="280.20" stroke="#1b4470" stroke-width="0.8"/>
<line x1="140.80" y1="277.57" x2="140.80" y2="280.37" stroke="#1b4470" stroke-width="0.8"/>
<line x1="144.00" y1="278.23" x2="144.00" y2="281.03" stroke="#1b4470" stroke-width="0.8"/>
<line x1="147.20" y1="280.91" x2="147.20" y2="283.71" stroke="#1b4470" stroke-width="0.8"/>
<line x1="150.40" y1="281.01" x2="150.40" y2="283.81" stroke="#1b4470" stroke-width="0.8"/>
<line x1="153.60" y1="281.12" x2="153.60" y2="283.92" stroke="#1b4470" stroke-width="0.8"/>
<line x1="156.80" y1="281.22" x2="156.80" y2="284.02" stroke="#1b4470" stroke-width="0.8"/>
<line x1="160.00" y1="281.32" x2="160.00" y2="284.12" stroke="#1b4470" stroke-width="0.8"/>
<line x1="163.20" y1="281.43" x2="163.20" y2="284.23" stroke="#1b4470" stroke-width="0.8"/>
<line x1="166.40" y1="282.76" x2="166.40" y2="285.56" stroke="#1b4470" stroke-width="0.8"/>
<line x1="169.60" y1="285.64" x2="169.60" y2="288.44" stroke="#1b4470" stroke-width="0.8"/>
<line x1="172.80" y1="285.90" x2="172.80" y2="288.70" stroke="#1b4470" stroke-width="0.8"/>
<line x1="176.00" y1="285.90" x2="176.00" y2="288.70" stroke="#1b4470" stroke-width="0.8"/>
<line x1="179.20" y1="285.90" x2="179.20" y2="288.70" stroke="#1b4470" stroke-width="0.8"/>
<line x1="182.40" y1="285.90" x2="182.40" y2="288.70" stroke="#1b4470" stroke-width="0.8"/>
<line x1="185.60" y1="285.90" x2="185.60" y2="288.70" stroke="#1b4470" stroke-width="0.8"/>
<line x1="188.80" y1="285.90" x2="188.80" y2="288.70" stroke="#1b4470" stroke-width="0.8"/>
<line x1="192.00" y1="285.90" x2="192.00" y2="288.70" stroke="#1b4470" stroke-width="0.8"/>
<line x1="195.20" y1="285.90" x2="195.20" y2="288.70" stroke="#1b4470" stroke-width="0.8"/>
<line x1="198.40" y1="285.90" x2="198.40" y2="288.70" stroke="#1b4470" stroke-width="0.8"/>
<line x1="201.60" y1="285.90" x2="201.60" y2="288.70" stroke="#1b4470" stroke-width="0.8"/>
<line x1="204.80" y1="285.90" x2="204.80" y2="288.70" stroke="#1b4470" stroke-width="0.8"/>
<line x1="208.00" y1="285.90" x2="208.00" y2="288.70" stroke="#1b4470" stroke-width="0.8"/>
<line x1="211.20" y1="285.90" x2="211.20" y2="288.70" stroke="#1b4470" stroke-width="0.8"/>
<line x1="214.40" y1="285.90" x2="214.40" y2="288.70" stroke="#1b4470" stroke-width="0.8"/>
<line x1="217.60" y1="285.90" x2="217.60" y2="288.70" stroke="#1b4470" stroke-width="0.8"/>
<line x1="220.80" y1="285.90" x2="220.80" y2="288.70" stroke="#1b4470" stroke-width="0.8"/>
<line x1="224.00" y1="290.40" x2="224.00" y2="293.20" stroke="#1b4470" stroke-width="0.8"/>
<line x1="227.20" y1="290.40" x2="227.20" y2="293.20" stroke="#1b4470" stroke-width="0.8"/>
<line x1="230.40" y1="290.40" x2="230.40" y2="293.20" stroke="#1b4470" stroke-width="0.8"/>
<line x1="233.60" y1="290.40" x2="233.60" y2="293.20" stroke="#1b4470" stroke-width="0.8"/>
<line x1="236.80" y1="290.40" x2="236.80" y2="293.20" stroke="#1b4470" stroke-width="0.8"/>
<line x1="240.00" y1="290.40" x2="240.00" y2="293.20" stroke="#1b4470" stroke-width="0.8"/>
<line x1="243.20" y1="290.40" x2="243.20" y2="293.20" stroke="#1b4470" stroke-width="0.8"/>
<line x1="80.00" y1="261.90" x2="80.00" y2="264.70" stroke="#2e8a3a" stroke-width="0.8"/>
<line x1="86.40" y1="262.11" x2="86.40" y2="264.91" stroke="#2e8a3a" stroke-width="0.8"/>
<line x1="92.80" y1="263.33" x2="92.80" y2="266.13" stroke="#2e8a3a" stroke-width="0.8"/>
<line x1="99.20" y1="264.98" x2="99.20" y2="267.78" stroke="#2e8a3a" stroke-width="0.8"/>
<line x1="105.60" y1="265.95" x2="105.60" y2="268.75" stroke="#2e8a3a" stroke-width="0.8"/>
<line x1="112.00" y1="266.98" x2="112.00" y2="269.78" stroke="#2e8a3a" stroke-width="0.8"/>
<line x1="118.40" y1="268.68" x2="118.40" y2="271.47" stroke="#2e8a3a" stroke-width="0.8"/>
<line x1="124.80" y1="270.00" x2="124.80" y2="272.80" stroke="#2e8a3a" stroke-width="0.8"/>
<line x1="131.20" y1="270.91" x2="131.20" y2="273.71" stroke="#2e8a3a" stroke-width="0.8"/>
<line x1="137.60" y1="272.29" x2="137.60" y2="275.09" stroke="#2e8a3a" stroke-width="0.8"/>
<line x1="144.00" y1="272.80" x2="144.00" y2="275.60" stroke="#2e8a3a" stroke-width="0.8"/>
<line x1="150.40" y1="277.40" x2="150.40" y2="280.20" stroke="#2e8a3a" stroke-width="0.8"/>
<line x1="156.80" y1="277.64" x2="156.80" y2="280.44" stroke="#2e8a3a" stroke-width="0.8"/>
<line x1="163.20" y1="277.88" x2="163.20" y2="280.68" stroke="#2e8a3a" stroke-width="0.8"/>
<line x1="169.60" y1="280.20" x2="169.60" y2="283.00" stroke="#2e8a3a" stroke-width="0.8"/>
<line x1="176.00" y1="284.90" x2="176.00" y2="287.70" stroke="#2e8a3a" stroke-width="0.8"/>
<line x1="182.40" y1="284.90" x2="182.40" y2="287.70" stroke="#2e8a3a" stroke-width="0.8"/>
<line x1="188.80" y1="284.90" x2="188.80" y2="287.70" stroke="#2e8a3a" stroke-width="0.8"/>
<line x1="195.20" y1="292.40" x2="195.20" y2="295.20" stroke="#2e8a3a" stroke-width="0.8"/>
<line x1="201.60" y1="292.40" x2="201.60" y2="295.20" stroke="#2e8a3a" stroke-width="0.8"/>
<line x1="208.00" y1="292.40" x2="208.00" y2="295.20" stroke="#2e8a3a" stroke-width="0.8"/>
<line x1="214.40" y1="292.40" x2="214.40" y2="295.20" stroke="#2e8a3a" stroke-width="0.8"/>
<line x1="220.80" y1="292.40" x2="220.80" y2="295.20" stroke="#2e8a3a" stroke-width="0.8"/>
<line x1="227.20" y1="292.40" x2="227.20" y2="295.20" stroke="#2e8a3a" stroke-width="0.8"/>
<line x1="233.60" y1="292.40" x2="233.60" y2="295.20" stroke="#2e8a3a" stroke-width="0.8"/>
<line x1="240.00" y1="292.40" x2="240.00" y2="295.20" stroke="#2e8a3a" stroke-width="0.8"/>
<line x1="100.00" y1="279.90" x2="100.00" y2="282.90" stroke="#a01234" stroke-width="0.9"/>
<line x1="116.00" y1="289.17" x2="116.00" y2="292.17" stroke="#a01234" stroke-width="0.9"/>
<line x1="140.00" y1="295.00" x2="140.00" y2="298.00" stroke="#a01234" stroke-width="0.9"/>
<line x1="160.00" y1="315.10" x2="160.00" y2="318.10" stroke="#a01234" stroke-width="0.9"/>
<line x1="176.00" y1="315.10" x2="176.00" y2="318.10" stroke="#a01234" stroke-width="0.9"/>
<line x1="190.00" y1="315.10" x2="190.00" y2="318.10" stroke="#a01234" stroke-width="0.9"/>
<line x1="200.00" y1="315.10" x2="200.00" y2="318.10" stroke="#a01234" stroke-width="0.9"/>
<path d="M328.50 264.90 L350.80 265.70 L366.20 268.80 L381.50 271.10 L390.00 270.50 L404.40 272.40 L408.00 274.80 L426.00 277.20 L432.00 280.80 L453.70 280.80 L454.90 284.40 L486.20 284.40 L487.40 288.00 L512.00 288.00" fill="none" stroke="#a2ae80" stroke-width="1.8" stroke-linejoin="miter" opacity="1.0"/>
<path d="M328.50 264.90 L369.20 264.90 L370.00 268.00 L375.40 271.10 L377.70 276.50 L378.50 278.00 L396.90 278.00 L397.20 278.40 L398.40 283.20 L406.80 283.20 L408.00 289.30 L411.60 295.30 L512.00 295.30" fill="none" stroke="#38a2d6" stroke-width="1.7" stroke-linejoin="miter" opacity="1.0"/>
<path d="M328.50 264.90 L330.00 271.80 L331.50 274.90 L336.90 275.70 L338.50 278.00 L340.00 278.80 L340.80 291.80 L342.30 296.50 L347.70 296.50 L348.50 302.60 L361.50 302.60 L362.30 315.70 L477.70 315.70 L478.50 328.20 L512.00 328.20" fill="none" stroke="#d3208a" stroke-width="1.7" stroke-linejoin="miter" opacity="1.0"/>
<path d="M328.50 264.90 L329.20 267.20 L336.90 267.20 L337.70 271.80 L340.00 274.90 L343.10 278.00 L347.70 283.40 L358.50 288.80 L366.20 291.10 L373.80 293.40 L378.50 297.20 L386.20 298.00 L387.70 300.30 L392.30 302.60 L403.20 302.60 L403.20 306.00 L423.70 306.00 L424.90 309.70 L432.00 309.70 L433.30 315.00 L512.00 315.00" fill="none" stroke="#f29a22" stroke-width="1.7" stroke-linejoin="miter" opacity="0.8"/>
<line x1="335.00" y1="263.73" x2="335.00" y2="266.53" stroke="#8a9868" stroke-width="0.8"/>
<line x1="339.50" y1="263.89" x2="339.50" y2="266.69" stroke="#8a9868" stroke-width="0.8"/>
<line x1="344.00" y1="264.06" x2="344.00" y2="266.86" stroke="#8a9868" stroke-width="0.8"/>
<line x1="348.50" y1="264.22" x2="348.50" y2="267.02" stroke="#8a9868" stroke-width="0.8"/>
<line x1="353.00" y1="264.74" x2="353.00" y2="267.54" stroke="#8a9868" stroke-width="0.8"/>
<line x1="357.50" y1="265.65" x2="357.50" y2="268.45" stroke="#8a9868" stroke-width="0.8"/>
<line x1="362.00" y1="266.55" x2="362.00" y2="269.35" stroke="#8a9868" stroke-width="0.8"/>
<line x1="366.50" y1="267.45" x2="366.50" y2="270.25" stroke="#8a9868" stroke-width="0.8"/>
<line x1="371.00" y1="268.12" x2="371.00" y2="270.92" stroke="#8a9868" stroke-width="0.8"/>
<line x1="375.50" y1="268.80" x2="375.50" y2="271.60" stroke="#8a9868" stroke-width="0.8"/>
<line x1="380.00" y1="269.47" x2="380.00" y2="272.27" stroke="#8a9868" stroke-width="0.8"/>
<line x1="384.50" y1="269.49" x2="384.50" y2="272.29" stroke="#8a9868" stroke-width="0.8"/>
<line x1="389.00" y1="269.17" x2="389.00" y2="271.97" stroke="#8a9868" stroke-width="0.8"/>
<line x1="393.50" y1="269.56" x2="393.50" y2="272.36" stroke="#8a9868" stroke-width="0.8"/>
<line x1="398.00" y1="270.16" x2="398.00" y2="272.96" stroke="#8a9868" stroke-width="0.8"/>
<line x1="402.50" y1="270.75" x2="402.50" y2="273.55" stroke="#8a9868" stroke-width="0.8"/>
<line x1="407.00" y1="272.73" x2="407.00" y2="275.53" stroke="#8a9868" stroke-width="0.8"/>
<line x1="411.50" y1="273.87" x2="411.50" y2="276.67" stroke="#8a9868" stroke-width="0.8"/>
<line x1="416.00" y1="274.47" x2="416.00" y2="277.27" stroke="#8a9868" stroke-width="0.8"/>
<line x1="420.50" y1="275.07" x2="420.50" y2="277.87" stroke="#8a9868" stroke-width="0.8"/>
<line x1="425.00" y1="275.67" x2="425.00" y2="278.47" stroke="#8a9868" stroke-width="0.8"/>
<line x1="429.50" y1="277.90" x2="429.50" y2="280.70" stroke="#8a9868" stroke-width="0.8"/>
<line x1="434.00" y1="279.40" x2="434.00" y2="282.20" stroke="#8a9868" stroke-width="0.8"/>
<line x1="438.50" y1="279.40" x2="438.50" y2="282.20" stroke="#8a9868" stroke-width="0.8"/>
<line x1="443.00" y1="279.40" x2="443.00" y2="282.20" stroke="#8a9868" stroke-width="0.8"/>
<line x1="447.50" y1="279.40" x2="447.50" y2="282.20" stroke="#8a9868" stroke-width="0.8"/>
<line x1="452.00" y1="279.40" x2="452.00" y2="282.20" stroke="#8a9868" stroke-width="0.8"/>
<line x1="456.50" y1="283.00" x2="456.50" y2="285.80" stroke="#8a9868" stroke-width="0.8"/>
<line x1="461.00" y1="283.00" x2="461.00" y2="285.80" stroke="#8a9868" stroke-width="0.8"/>
<line x1="465.50" y1="283.00" x2="465.50" y2="285.80" stroke="#8a9868" stroke-width="0.8"/>
<line x1="470.00" y1="283.00" x2="470.00" y2="285.80" stroke="#8a9868" stroke-width="0.8"/>
<line x1="474.50" y1="283.00" x2="474.50" y2="285.80" stroke="#8a9868" stroke-width="0.8"/>
<line x1="479.00" y1="283.00" x2="479.00" y2="285.80" stroke="#8a9868" stroke-width="0.8"/>
<line x1="483.50" y1="283.00" x2="483.50" y2="285.80" stroke="#8a9868" stroke-width="0.8"/>
<line x1="488.00" y1="286.60" x2="488.00" y2="289.40" stroke="#8a9868" stroke-width="0.8"/>
<line x1="492.50" y1="286.60" x2="492.50" y2="289.40" stroke="#8a9868" stroke-width="0.8"/>
<line x1="497.00" y1="286.60" x2="497.00" y2="289.40" stroke="#8a9868" stroke-width="0.8"/>
<line x1="501.50" y1="286.60" x2="501.50" y2="289.40" stroke="#8a9868" stroke-width="0.8"/>
<line x1="506.00" y1="286.60" x2="506.00" y2="289.40" stroke="#8a9868" stroke-width="0.8"/>
<line x1="510.50" y1="286.60" x2="510.50" y2="289.40" stroke="#8a9868" stroke-width="0.8"/>
<line x1="335.00" y1="263.50" x2="335.00" y2="266.30" stroke="#2888c0" stroke-width="0.8"/>
<line x1="340.00" y1="263.50" x2="340.00" y2="266.30" stroke="#2888c0" stroke-width="0.8"/>
<line x1="345.00" y1="263.50" x2="345.00" y2="266.30" stroke="#2888c0" stroke-width="0.8"/>
<line x1="352.00" y1="263.50" x2="352.00" y2="266.30" stroke="#2888c0" stroke-width="0.8"/>
<line x1="358.00" y1="263.50" x2="358.00" y2="266.30" stroke="#2888c0" stroke-width="0.8"/>
<line x1="365.00" y1="263.50" x2="365.00" y2="266.30" stroke="#2888c0" stroke-width="0.8"/>
<line x1="385.00" y1="276.60" x2="385.00" y2="279.40" stroke="#2888c0" stroke-width="0.8"/>
<line x1="400.00" y1="281.80" x2="400.00" y2="284.60" stroke="#2888c0" stroke-width="0.8"/>
<line x1="418.00" y1="293.90" x2="418.00" y2="296.70" stroke="#2888c0" stroke-width="0.8"/>
<line x1="432.00" y1="293.90" x2="432.00" y2="296.70" stroke="#2888c0" stroke-width="0.8"/>
<line x1="450.00" y1="293.90" x2="450.00" y2="296.70" stroke="#2888c0" stroke-width="0.8"/>
<line x1="465.00" y1="293.90" x2="465.00" y2="296.70" stroke="#2888c0" stroke-width="0.8"/>
<line x1="480.00" y1="293.90" x2="480.00" y2="296.70" stroke="#2888c0" stroke-width="0.8"/>
<line x1="495.00" y1="293.90" x2="495.00" y2="296.70" stroke="#2888c0" stroke-width="0.8"/>
<line x1="345.00" y1="278.83" x2="345.00" y2="281.63" stroke="#d88010" stroke-width="0.8"/>
<line x1="355.00" y1="285.65" x2="355.00" y2="288.45" stroke="#d88010" stroke-width="0.8"/>
<line x1="362.00" y1="288.45" x2="362.00" y2="291.25" stroke="#d88010" stroke-width="0.8"/>
<line x1="372.00" y1="291.46" x2="372.00" y2="294.26" stroke="#d88010" stroke-width="0.8"/>
<line x1="380.00" y1="295.96" x2="380.00" y2="298.76" stroke="#d88010" stroke-width="0.8"/>
<line x1="392.00" y1="301.05" x2="392.00" y2="303.85" stroke="#d88010" stroke-width="0.8"/>
<line x1="398.00" y1="301.20" x2="398.00" y2="304.00" stroke="#d88010" stroke-width="0.8"/>
<line x1="412.00" y1="304.60" x2="412.00" y2="307.40" stroke="#d88010" stroke-width="0.8"/>
<line x1="420.00" y1="304.60" x2="420.00" y2="307.40" stroke="#d88010" stroke-width="0.8"/>
<line x1="440.00" y1="313.60" x2="440.00" y2="316.40" stroke="#d88010" stroke-width="0.8"/>
<line x1="455.00" y1="313.60" x2="455.00" y2="316.40" stroke="#d88010" stroke-width="0.8"/>
<line x1="470.00" y1="313.60" x2="470.00" y2="316.40" stroke="#d88010" stroke-width="0.8"/>
<line x1="490.00" y1="313.60" x2="490.00" y2="316.40" stroke="#d88010" stroke-width="0.8"/>
<line x1="333.00" y1="273.72" x2="333.00" y2="276.52" stroke="#b81070" stroke-width="0.8"/>
<line x1="345.00" y1="295.10" x2="345.00" y2="297.90" stroke="#b81070" stroke-width="0.8"/>
<line x1="365.00" y1="314.30" x2="365.00" y2="317.10" stroke="#b81070" stroke-width="0.8"/>
<line x1="490.00" y1="326.80" x2="490.00" y2="329.60" stroke="#b81070" stroke-width="0.8"/>
</g></svg>
</body></html>
